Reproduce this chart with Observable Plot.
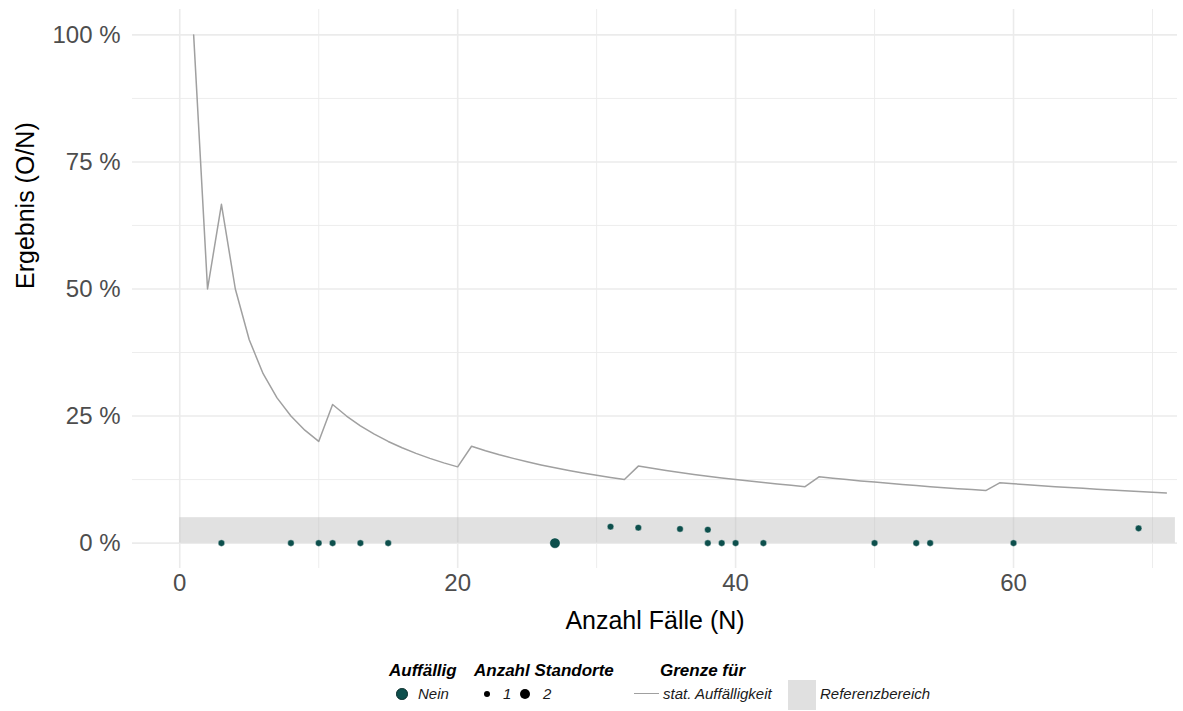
<!DOCTYPE html>
<html>
<head>
<meta charset="utf-8">
<script src="https://cdn.jsdelivr.net/npm/d3@7"></script>
<script src="https://cdn.jsdelivr.net/npm/@observablehq/plot@0.6"></script>
<style>
  body { margin: 0; background: #fff; font-family: "Liberation Sans", Arial, sans-serif; }
  #wrap { position: relative; width: 1183px; height: 711px; }
  #legend { position: absolute; left: 0; top: 645px; width: 1183px; height: 66px; }
  #legend div { position: absolute; white-space: nowrap; }
  .lt { font-weight: bold; font-style: italic; font-size: 17px; color: #000; top: 16px; line-height: 20px; }
  .ll { font-style: italic; font-size: 15px; color: #1a1a1a; top: 40px; line-height: 18px; }
</style>
</head>
<body>
<div id="wrap">
  <div id="chart"></div>
  <div id="legend"></div>
</div>
<script>
// ---- data ----
// threshold line "stat. Auffälligkeit" (percent) for N = 1..71
const limitN = [1,2,3,4,5,6,7,8,9,10,11,12,13,14,15,16,17,18,19,20,21,22,23,24,25,26,27,28,29,30,31,32,33,34,35,36,37,38,39,40,41,42,43,44,45,46,47,48,49,50,51,52,53,54,55,56,57,58,59,60,61,62,63,64,65,66,67,68,69,70,71];
const limitPct = [100,50,66.67,50,40,33.33,28.57,25,22.22,20,27.27,25,23.08,21.43,20,18.75,17.65,16.67,15.79,15,19.05,18.18,17.39,16.67,16,15.38,14.81,14.29,13.79,13.33,12.90,12.5,15.15,14.71,14.29,13.89,13.51,13.16,12.82,12.5,12.20,11.90,11.63,11.36,11.11,13.04,12.77,12.5,12.24,12,11.76,11.54,11.32,11.11,10.91,10.71,10.53,10.34,11.86,11.67,11.48,11.29,11.11,10.94,10.77,10.61,10.45,10.29,10.14,10,9.86];

// sites
const siteN     = [3,8,10,11,13,15,27,31,33,36,38,38,39,40,42,50,53,54,60,69];
const sitePct   = [0,0,0,0,0,0,0,3.23,3.03,2.78,2.63,0,0,0,0,0,0,0,0,2.90];
const siteCount = [1,1,1,1,1,1,2,1,1,1,1,1,1,1,1,1,1,1,1,1];

// reference range (percent)
const refLow = 0, refHigh = 5;
const refFrom = 0, refTo = 71.65;

// axes
const xTicks = [0,20,40,60];
const xMinor = [10,30,50,70];
const yTicks = [0,25,50,75,100];
const yMinor = [12.5,37.5,62.5,87.5];
const yTickLabels = ["0 %","25 %","50 %","75 %","100 %"];

const limitData = limitN.map((n,i) => ({n, v: limitPct[i]}));
const siteData = siteN.map((n,i) => ({n, v: sitePct[i], c: siteCount[i]}));
const band = [{x1: refFrom, x2: refTo, y1: refLow, y2: refHigh}];

const grid = "#ebebeb";
const teal = "#0d4f4c";

const chart = Plot.plot({
  width: 1183,
  height: 645,
  marginLeft: 132,
  marginRight: 6,
  marginTop: 9,
  marginBottom: 77,
  style: {fontFamily: "'Liberation Sans', Arial, sans-serif", background: "#fff"},
  x: {domain: [-3.4, 71.8]},
  y: {domain: [-5, 105]},
  r: {type: "linear", domain: [1, 2], range: [3.3, 5.2]},
  marks: [
    Plot.ruleY(yMinor, {stroke: grid, strokeWidth: 0.9}),
    Plot.ruleX(xMinor, {stroke: grid, strokeWidth: 0.9}),
    Plot.ruleY(yTicks, {stroke: grid, strokeWidth: 1.6}),
    Plot.ruleX(xTicks, {stroke: grid, strokeWidth: 1.6}),
    Plot.rect(band, {x1: "x1", x2: "x2", y1: "y1", y2: "y2", fill: "#bdbdbd", fillOpacity: 0.45}),
    Plot.line(limitData, {x: "n", y: "v", stroke: "#a0a0a0", strokeWidth: 1.5}),
    Plot.dot(siteData, {x: "n", y: "v", r: "c", fill: teal, stroke: "#ffffff", strokeWidth: 0.4}),
    Plot.axisX(xTicks, {tickSize: 0, tickPadding: 5, fontSize: 24, color: "#4d4d4d", label: null}),
    Plot.axisY(yTicks, {tickSize: 0, tickPadding: 12, fontSize: 24, color: "#4d4d4d", label: null,
      tickFormat: d => yTickLabels[yTicks.indexOf(d)]}),
    Plot.text(["Anzahl Fälle (N)"], {frameAnchor: "bottom", dy: 60, fontSize: 25, fill: "#000"}),
    Plot.text(["Ergebnis (O/N)"], {frameAnchor: "left", dx: -107, rotate: -90, fontSize: 25, fill: "#000"})
  ]
});
document.getElementById("chart").appendChild(chart);

// ---- legend ----
const legendTitles = [["Auffällig", 389], ["Anzahl Standorte", 474], ["Grenze für", 660]];
const lg = document.getElementById("legend");
function add(html, cls, left, extra) {
  const d = document.createElement("div");
  d.className = cls || "";
  d.style.left = left + "px";
  if (extra) Object.assign(d.style, extra);
  d.innerHTML = html;
  lg.appendChild(d);
  return d;
}
legendTitles.forEach(([t, x]) => add(t, "lt", x));
function dot(cx, r, fill, border) {
  add("", "", cx - r, {top: (49 - r) + "px", width: 2*r + "px", height: 2*r + "px", borderRadius: "50%",
    background: fill, boxSizing: "border-box", border: border || "none"});
}
dot(402, 5.8, teal, "1px solid #062a28");
add("Nein", "ll", 418);
dot(487, 3.3, "#000");
add("1", "ll", 503);
dot(525, 5.4, "#000");
add("2", "ll", 543);
add("", "", 634, {top: "48px", width: "25px", height: "0", borderTop: "1.5px solid #a0a0a0"});
add("stat. Auffälligkeit", "ll", 663);
add("", "", 788, {top: "35px", width: "28px", height: "30px", background: "#e0e0e0"});
add("Referenzbereich", "ll", 820);
</script>
</body>
</html>
